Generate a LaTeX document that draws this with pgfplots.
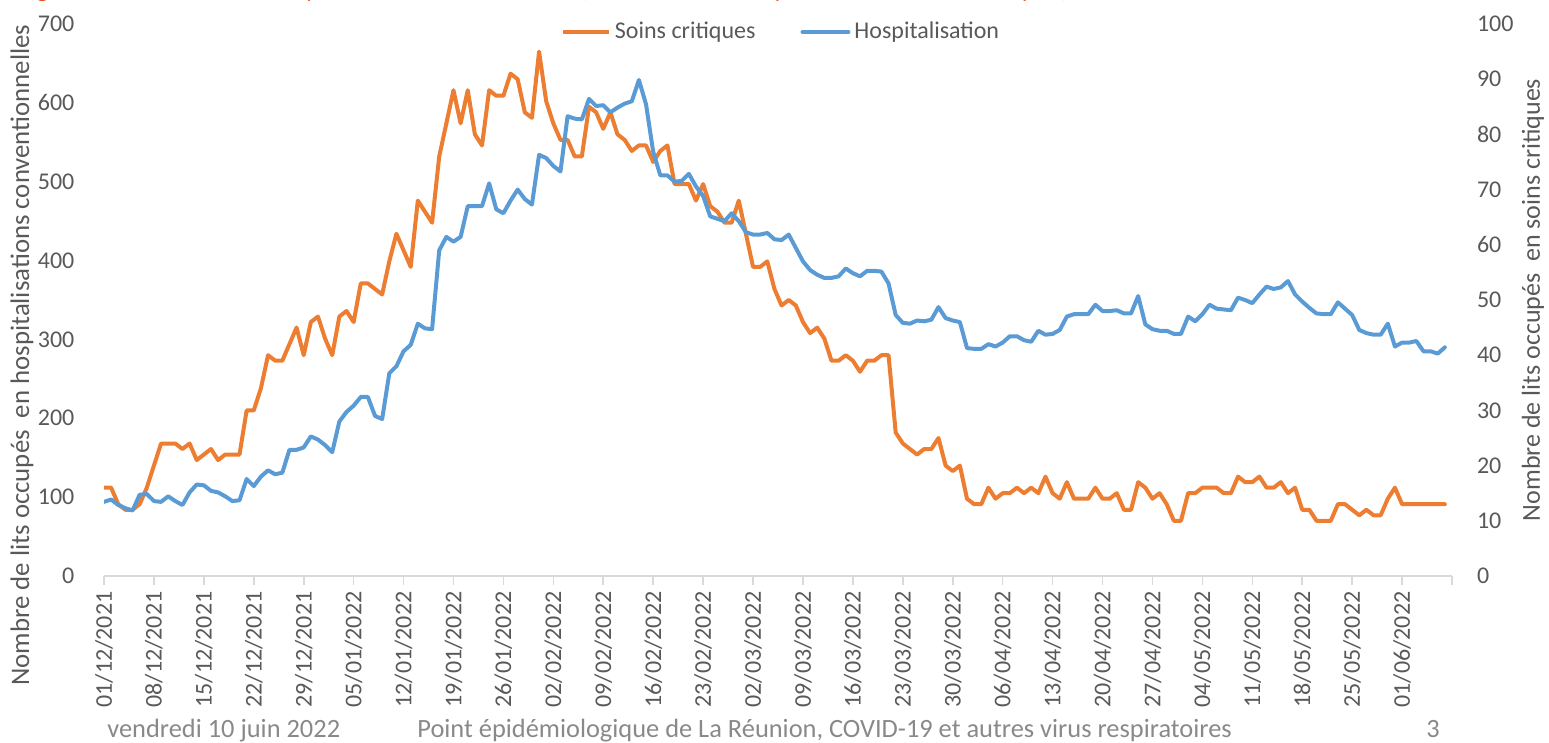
\documentclass[border=0pt]{standalone}
\usepackage{pgfplots}
\pgfplotsset{compat=1.18}
\usepackage{pgfplotstable}
\usepackage{fontspec}
\setmainfont{Carlito}
\definecolor{cOrange}{HTML}{ED7D31}
\definecolor{cBlue}{HTML}{5B9BD5}
\definecolor{cTick}{HTML}{595959}
\definecolor{cAxis}{HTML}{D9D9D9}
\definecolor{cFoot}{HTML}{898989}
\definecolor{cTitle}{HTML}{E8501F}

\pgfplotstableread{
d hosp sc
0 94 16
1 97 16
2 90 13
3 86 12
4 83 12
5 103 13
6 104 16
7 95 20
8 94 24
9 101 24
10 95 24
11 90 23
12 106 24
13 116 21
14 115 22
15 108 23
16 106 21
17 101 22
18 95 22
19 96 22
20 123 30
21 114 30
22 126 34
23 134 40
24 129 39
25 131 39
26 160 42
27 160 45
28 163 40
29 177 46
30 173 47
31 166 43
32 157 40
33 196 47
34 208 48
35 216 46
36 227 53
37 227 53
38 203 52
39 199 51
40 257 57
41 266 62
42 285 59
43 293 56
44 320 68
45 314 66
46 313 64
47 413 76
48 430 82
49 424 88
50 430 82
51 469 88
52 469 80
53 469 78
54 498 88
55 465 87
56 460 87
57 476 91
58 490 90
59 478 84
60 471 83
61 534 95
62 530 86
63 520 82
64 513 79
65 583 79
66 580 76
67 579 76
68 605 85
69 596 84
70 597 81
71 588 84
72 594 80
73 599 79
74 602 77
75 629 78
76 598 78
77 538 75
78 508 77
79 508 78
80 500 71
81 501 71
82 510 71
83 494 68
84 482 71
85 456 67
86 453 66
87 450 64
88 460 64
89 450 68
90 436 62
91 433 56
92 433 56
93 435 57
94 427 52
95 426 49
96 433 50
97 416 49
98 399 46
99 388 44
100 382 45
101 378 43
102 378 39
103 380 39
104 390 40
105 384 39
106 380 37
107 387 39
108 387 39
109 386 40
110 371 40
111 331 26
112 321 24
113 320 23
114 324 22
115 323 23
116 325 23
117 341 25
118 327 20
119 324 19
120 322 20
121 289 14
122 288 13
123 288 13
124 294 16
125 291 14
126 296 15
127 304 15
128 304 16
129 299 15
130 297 16
131 311 15
132 306 18
133 307 15
134 312 14
135 329 17
136 332 14
137 332 14
138 332 14
139 344 16
140 336 14
141 336 14
142 337 15
143 333 12
144 333 12
145 355 17
146 319 16
147 313 14
148 311 15
149 311 13
150 307 10
151 307 10
152 329 15
153 323 15
154 332 16
155 344 16
156 339 16
157 338 15
158 337 15
159 353 18
160 350 17
161 346 17
162 357 18
163 367 16
164 364 16
165 366 17
166 374 15
167 357 16
168 348 12
169 340 12
170 333 10
171 332 10
172 332 10
173 347 13
174 339 13
175 331 12
176 312 11
177 308 12
178 306 11
179 306 11
180 320 14
181 291 16
182 296 13
183 296 13
184 298 13
185 285 13
186 285 13
187 282 13
188 290 13
}\datatable

\pgfplotsset{
  common/.style={
    at={(52pt,83.5pt)}, anchor=south west,
    scale only axis, width=674pt, height=276pt,
    xmin=0, xmax=189, ymin=0,
    /pgf/number format/assume math mode=true,
    every tick label/.append style={font=\fontsize{12}{14}\selectfont, text=cTick},
  },
}

\begin{document}
\begin{tikzpicture}[x=1pt,y=1pt]
\useasboundingbox (0,0) rectangle (774.5,371.5);

% right axis: soins critiques
\begin{axis}[common,
  ymax=100,
  axis x line=none,
  axis y line*=right,
  y axis line style={draw=none},
  ytick={0,10,...,100},
  y tick style={draw=none},
  major tick length=0pt,
  yticklabel style={anchor=west, xshift=9pt},
]
\addplot[cOrange, line width=2pt, line join=round, line cap=round] table[x=d,y=sc]{\datatable};
\end{axis}

% left axis: hospitalisation
\begin{axis}[common,
  ymax=700,
  axis x line*=bottom,
  axis y line*=left,
  y axis line style={draw=none},
  x axis line style={cAxis, line width=0.8pt, -},
  ytick={0,100,...,700},
  y tick style={draw=none},
  yticklabel style={anchor=east, xshift=-7pt},
  xtick={0,7,...,189},
  xticklabels={01/12/2021,08/12/2021,15/12/2021,22/12/2021,29/12/2021,05/01/2022,12/01/2022,19/01/2022,26/01/2022,02/02/2022,09/02/2022,16/02/2022,23/02/2022,02/03/2022,09/03/2022,16/03/2022,23/03/2022,30/03/2022,06/04/2022,13/04/2022,20/04/2022,27/04/2022,04/05/2022,11/05/2022,18/05/2022,25/05/2022,01/06/2022,{}},
  x tick style={cAxis, line width=0.8pt},
  tick align=outside,
  x tick label style={rotate=90, anchor=east},
  legend style={at={(0.503,0.9855)}, anchor=center, draw=none, fill=none,
    font=\fontsize{12}{14}\selectfont, text=cTick,
    legend columns=2,
    /tikz/every even column/.append style={column sep=20.5pt}},
  legend image code/.code={\draw[#1, line width=2pt] (0pt,0pt) -- (23pt,0pt);},
]
\addlegendimage{cOrange}
\addlegendentry{Soins critiques}
\addplot[cBlue, line width=2pt, line join=round, line cap=round] table[x=d,y=hosp]{\datatable};
\addlegendentry{Hospitalisation}
\end{axis}

% axis titles
\node[rotate=90, text=cTick, font=\fontsize{13.4}{16}\selectfont] at (11,194) {Nombre de lits occupés\ \ en hospitalisations conventionnelles};
\node[rotate=90, text=cTick, font=\fontsize{13}{16}\selectfont] at (766.5,221.5) {Nombre de lits occupés\ \ en soins critiques};

% cropped title (only its lowest part lies inside the picture, as in the reference)
\node[anchor=base west, inner sep=0pt, text=cTitle, font=\fontsize{12}{14}\selectfont] at (10,372.5) {Figure 2. Nombre de lits occupés, La Réunion, 2021-2022 (source : SI-VIC, hospitalisations et soins critiques)};

% footer
\node[anchor=base west, inner sep=0pt, text=cFoot, font=\fontsize{13.2}{16}\selectfont] at (53.5,2.5) {vendredi 10 juin 2022};
\node[anchor=base west, inner sep=0pt, text=cFoot, font=\fontsize{13.2}{16}\selectfont] at (208.5,2.5) {Point épidémiologique de La Réunion, COVID-19 et autres virus respiratoires};
\node[anchor=base west, inner sep=0pt, text=cFoot, font=\fontsize{13.2}{16}\selectfont] at (713,2.5) {3};
\end{tikzpicture}
\end{document}
